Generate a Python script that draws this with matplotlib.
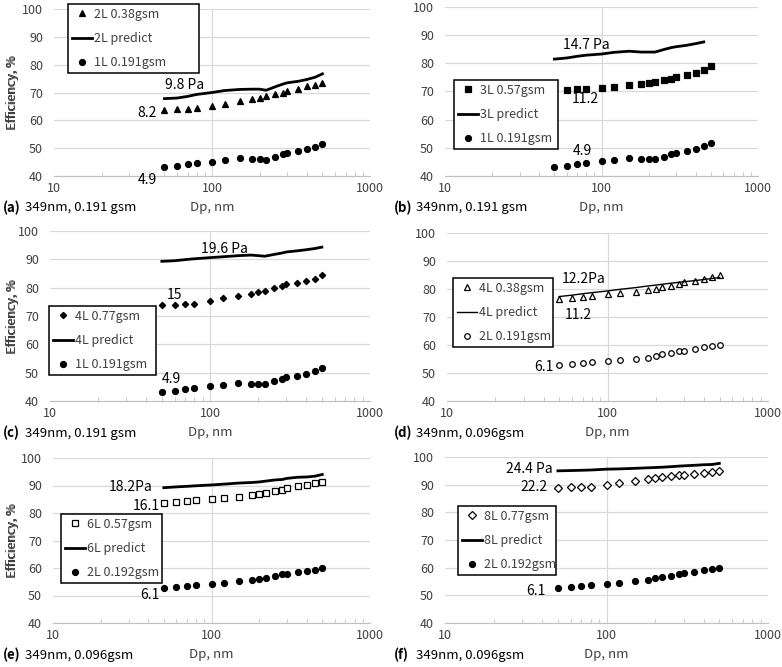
import matplotlib.pyplot as plt

plt.rcParams['font.family'] = ['Noto Sans CJK SC', 'DejaVu Sans']
plt.rcParams['font.size'] = 9
plt.rcParams['font.weight'] = 'light'

# particle size (nm) for the measured points
dp = [50, 60, 70, 80, 100, 120, 150, 180, 200, 220, 250, 280, 300, 350, 400, 450, 500]

# reference layers
one_layer_0191 = [43.1, 43.7, 44.2, 44.7, 45.2, 45.7, 46.4, 46.1, 46.1, 45.9, 46.9, 47.8, 48.3, 48.9, 49.7, 50.5, 51.6]
two_layer_0192 = [52.7, 53.1, 53.3, 53.7, 54.2, 54.6, 55.1, 55.5, 56.1, 56.5, 57.0, 57.7, 57.9, 58.4, 59.0, 59.4, 60.0]
two_layer_0191 = [52.8, 53.1, 53.5, 53.8, 54.3, 54.6, 55.0, 55.5, 56.1, 56.8, 57.3, 57.8, 58.0, 58.6, 59.2, 59.5, 60.0]

# (a)
two_l_038 = [63.6, 64.0, 64.0, 64.6, 65.3, 66.0, 66.9, 67.7, 68.1, 68.7, 69.5, 70.0, 70.5, 71.4, 72.3, 72.7, 73.3]
two_l_pred = [67.8, 68.0, 68.6, 69.3, 70.0, 70.7, 71.1, 71.2, 71.2, 70.8, 72.0, 73.0, 73.5, 74.0, 74.7, 75.5, 76.7]
# (b) measured from 60 nm, prediction up to 450 nm
dp_b = [60, 70, 80, 100, 120, 150, 180, 200, 220, 250, 280, 300, 350, 400, 450, 500]
three_l_057 = [70.7, 71.0, 71.0, 71.4, 71.6, 72.3, 72.7, 73.0, 73.4, 74.0, 74.5, 75.1, 76.0, 76.7, 77.5, 79.1]
dp_b_pred = [50, 60, 70, 80, 100, 120, 150, 180, 200, 220, 250, 280, 300, 350, 400, 450]
three_l_pred = [81.5, 81.9, 82.5, 82.9, 83.3, 83.9, 84.3, 84.0, 84.0, 84.0, 84.9, 85.6, 85.9, 86.4, 87.0, 87.6]
# (c)
four_l_077 = [73.8, 73.8, 74.2, 74.2, 75.3, 76.3, 77.2, 77.9, 78.6, 78.9, 79.9, 80.6, 81.2, 81.7, 82.3, 83.2, 84.3]
four_l_pred_c = [89.3, 89.5, 89.9, 90.2, 90.6, 90.9, 91.3, 91.5, 91.3, 91.1, 91.7, 92.2, 92.6, 93.0, 93.4, 93.8, 94.3]
# (d)
four_l_038 = [76.3, 76.8, 77.2, 77.6, 78.1, 78.4, 79.1, 79.5, 79.9, 80.6, 81.0, 81.8, 82.5, 83.0, 83.7, 84.4, 85.0]
four_l_pred_d = [77.3, 77.8, 78.3, 78.7, 79.3, 79.9, 80.5, 81.1, 81.4, 81.7, 82.1, 82.4, 82.6, 83.0, 83.4, 83.8, 84.1]
# (e)
six_l_057 = [83.6, 84.0, 84.4, 84.6, 85.0, 85.3, 85.8, 86.6, 86.9, 87.3, 88.0, 88.5, 89.0, 89.8, 90.1, 90.8, 91.2]
six_l_pred = [89.2, 89.5, 89.7, 89.9, 90.2, 90.5, 90.9, 91.1, 91.3, 91.6, 92.0, 92.2, 92.6, 93.0, 93.1, 93.4, 94.0]
# (f)
eight_l_077 = [88.7, 89.0, 89.0, 89.0, 89.8, 90.6, 91.3, 92.0, 92.5, 92.9, 93.3, 93.5, 93.5, 94.0, 94.3, 94.6, 95.1]
eight_l_pred = [95.0, 95.1, 95.2, 95.3, 95.6, 95.7, 95.9, 96.1, 96.2, 96.3, 96.5, 96.7, 96.8, 97.0, 97.2, 97.3, 97.7]

W, H = 782, 667
fig = plt.figure(figsize=(W / 100, H / 100), dpi=100)
GREY_TXT = '#404040'


def add_ax(l, t, r, b):
    return fig.add_axes([l / W, 1 - b / H, (r - l) / W, (b - t) / H])


panels = [
    dict(rect=(54, 9, 370, 176), cap='(a)', rest='349nm, 0.191 gsm',
         meas=(dp, two_l_038, '2L 0.38gsm', '^', 4.8, True),
         pred=(dp, two_l_pred, '2L predict', 2.0),
         ref=(dp, one_layer_0191, '1L 0.191gsm', 'o', 4.3, True),
         notes=[(67, 72.7, '9.8 Pa', 'center'), (45, 62.5, '8.2', 'right'), (45, 38.6, '4.9', 'right')],
         leg=(68, 4, 131)),
    dict(rect=(445, 7, 758, 176), cap='(b)', rest='349nm, 0.191 gsm',
         meas=(dp_b, three_l_057, '3L 0.57gsm', 's', 4.3, True),
         pred=(dp_b_pred, three_l_pred, '3L predict', 2.0),
         ref=(dp, one_layer_0191, '1L 0.191gsm', 'o', 4.3, True),
         notes=[(80, 86.5, '14.7 Pa', 'center'), (79, 67.4, '11.2', 'center'), (75, 48.9, '4.9', 'center')],
         leg=(454, 80, 104)),
    dict(rect=(50, 231, 370, 401), cap='(c)', rest='349nm, 0.191 gsm',
         meas=(dp, four_l_077, '4L 0.77gsm', 'D', 3.2, True),
         pred=(dp, four_l_pred_c, '4L predict', 2.0),
         ref=(dp, one_layer_0191, '1L 0.191gsm', 'o', 4.3, True),
         notes=[(123, 93.7, '19.6 Pa', 'center'), (59.6, 77.4, '15', 'center'), (57, 47.8, '4.9', 'center')],
         leg=(49, 306, 107)),
    dict(rect=(447, 233, 768, 401), cap='(d)', rest='349nm, 0.096gsm',
         meas=(dp, four_l_038, '4L 0.38gsm', '^', 4.2, False),
         pred=(dp, four_l_pred_d, '4L predict', 1.0),
         ref=(dp, two_layer_0191, '2L 0.191gsm', 'o', 4.0, False),
         notes=[(71.4, 83.7, '12.2Pa', 'center'), (66, 70.6, '11.2', 'center'), (46.4, 52.1, '6.1', 'right')],
         leg=(453, 278, 100)),
    dict(rect=(53, 458, 370, 623), cap='(e)', rest='349nm, 0.096gsm',
         meas=(dp, six_l_057, '6L 0.57gsm', 's', 4.3, False),
         pred=(dp, six_l_pred, '6L predict', 2.0),
         ref=(dp, two_layer_0192, '2L 0.192gsm', 'o', 4.3, True),
         notes=[(42.2, 89.6, '18.2Pa', 'right'), (47.3, 82.7, '16.1', 'right'), (47.3, 50.3, '6.1', 'right')],
         leg=(61, 514, 101)),
    dict(rect=(445, 457, 768, 623), cap='(f)', rest='349nm, 0.096gsm',
         meas=(dp, eight_l_077, '8L 0.77gsm', 'D', 3.6, False),
         pred=(dp, eight_l_pred, '8L predict', 2.0),
         ref=(dp, two_layer_0192, '2L 0.192gsm', 'o', 4.3, True),
         notes=[(46.7, 95.7, '24.4 Pa', 'right'), (43.4, 89.1, '22.2', 'right'), (42.2, 51.7, '6.1', 'right')],
         leg=(458, 506, 98)),
]

for p in panels:
    l, t, r, b = p['rect']
    ax = add_ax(l, t, r, b)
    ax.set_xscale('log')
    ax.set_xlim(10, 1000)
    ax.set_ylim(40, 100)
    ax.set_yticks(range(40, 101, 10))
    ax.set_xticks([10, 100, 1000], ['10', '100', '1000'])

    x, y, lab, mk, ms, filled = p['meas']
    ax.plot(x, y, ls='none', marker=mk, ms=ms, color='black',
            mfc='black' if filled else 'white', mew=0.9, label=lab, zorder=3)
    xp, yp, labp, lw = p['pred']
    ax.plot(xp, yp, color='black', lw=lw, label=labp, zorder=3)
    x, y, lab, mk, ms, filled = p['ref']
    ax.plot(x, y, ls='none', marker=mk, ms=ms, color='black',
            mfc='black' if filled else 'white', mew=0.9, label=lab, zorder=3)

    for nx, ny, txt, ha in p['notes']:
        ax.text(nx, ny, txt, ha=ha, va='center', fontsize=10)

    ax.grid(True, which='major', color='#d9d9d9', lw=0.9)
    gl = ax.get_xgridlines()
    gl[0].set_visible(False)
    gl[-1].set_visible(False)
    for s in ['left', 'top', 'right']:
        ax.spines[s].set_visible(False)
    ax.spines['bottom'].set_color('#bfbfbf')
    ax.tick_params(axis='y', length=0, pad=8, labelsize=9, labelcolor=GREY_TXT)
    ax.tick_params(axis='x', which='major', length=0, pad=4, labelsize=9, labelcolor=GREY_TXT)
    ax.tick_params(axis='x', which='minor', direction='in', length=3, color='#bfbfbf', labelbottom=False)

    ax.set_ylabel('Efficiency, %', fontsize=9, color=GREY_TXT)
    ax.yaxis.set_label_coords((19 - l) / (r - l), 0.5)
    ax.set_xlabel('Dp, nm', fontsize=9.5, color=GREY_TXT)
    ax.xaxis.set_label_coords(0.5, -25 / (b - t))

    lx, ly, lw_box = p['leg']
    anchor = ((lx - l) / (r - l), (b - ly) / (b - t), lw_box / (r - l), 0)
    leg = ax.legend(loc='upper left', bbox_to_anchor=anchor, mode='expand',
                    borderaxespad=0, fancybox=False, framealpha=1, edgecolor='black',
                    fontsize=9, borderpad=0.3, labelspacing=0.9, handlelength=1.6,
                    handletextpad=0.15, numpoints=1)
    leg.get_frame().set_linewidth(1.1)
    for txt in leg.get_texts():
        txt.set_color(GREY_TXT)

    # caption below each panel
    cx = 3 if l < 300 else 394
    cy = b + 32
    fig.text(cx / W, 1 - cy / H, p['cap'], fontweight='bold', fontsize=9.5, va='center')
    fig.text((cx + 22) / W, 1 - cy / H, p['rest'], fontsize=9.5, va='center')

fig.savefig('out.png', dpi=100)
